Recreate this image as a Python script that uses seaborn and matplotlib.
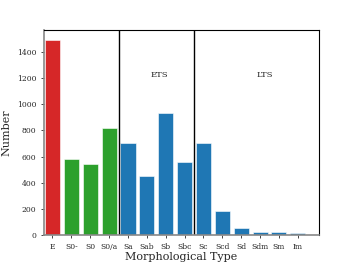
import pandas as pd
import matplotlib
matplotlib.use("Agg")
import matplotlib.pyplot as plt
import seaborn as sns

types = ["E", "S0-", "S0", "S0/a", "Sa", "Sab", "Sb", "Sbc", "Sc", "Scd", "Sd", "Sdm", "Sm", "Im"]
counts = [1490, 580, 545, 820, 700, 450, 930, 555, 700, 185, 50, 24, 22, 15]
colors = ["#d62728"] + ["#2ca02c"] * 3 + ["#1f77b4"] * 10

df = pd.DataFrame({"Type": types, "Number": counts})

sns.set_style("ticks")
plt.rcParams["font.family"] = ["DejaVu Serif"]

fig, ax = plt.subplots(figsize=(3.52, 2.64), dpi=100)
sns.barplot(x="Type", y="Number", data=df, hue="Type", palette=colors, legend=False,
            width=0.8, edgecolor="white", linewidth=0.4, saturation=1, ax=ax)

ax.axvline(3.5, color="black", lw=1)
ax.axvline(7.5, color="black", lw=1)
ax.text(5.65, 1220, "ETS", ha="center", va="center", fontsize=6)
ax.text(11.25, 1220, "LTS", ha="center", va="center", fontsize=6)

ax.set_ylim(0, 1565)
ax.set_xlim(-0.45, 14.1)
ax.set_xlabel("Morphological Type", fontsize=8, labelpad=1)
ax.set_ylabel("Number", fontsize=8)
ax.tick_params(labelsize=5.5, length=2, width=0.6)
for s in ["top", "right"]:
    ax.spines[s].set_color("black")
for s in ["left", "bottom"]:
    ax.spines[s].set_color("#888888")
    ax.spines[s].set_linewidth(1.2)

plt.subplots_adjust(left=0.125, right=0.905, top=0.885, bottom=0.11)
plt.savefig("out.png", dpi=100)
